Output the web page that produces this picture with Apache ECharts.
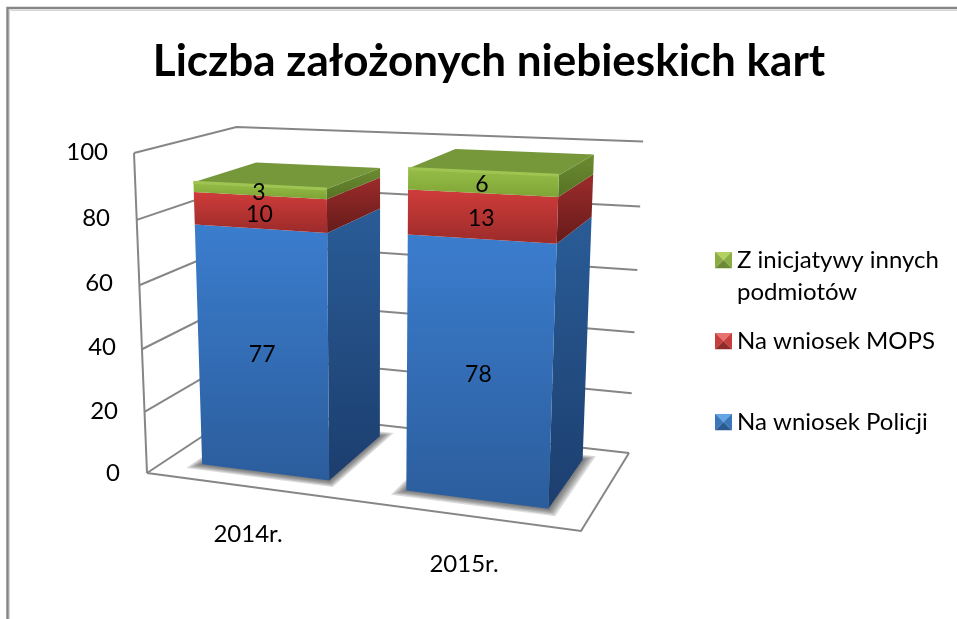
<!DOCTYPE html>
<html><head><meta charset="utf-8">
<style>html,body{margin:0;padding:0;background:#fff}#c{width:957px;height:619px}</style>
<script src="https://cdn.jsdelivr.net/npm/echarts@6/dist/echarts.min.js"></script>
</head><body><div id="c"></div>
<script>
const categories = ['2014r.', '2015r.'];
const naWniosekPolicji = [77, 78];
const naWniosekMops = [10, 13];
const zInicjatywy = [3, 6];
const gridTicks = [0, 20, 40, 60, 80, 100];
const seriesNames = ['Na wniosek Policji', 'Na wniosek MOPS', 'Z inicjatywy innych podmiotów'];

const FONT = 'Lato';
const GRID = {left: 140, right: 385, top: 151, bottom: 147};
// perspective box: floor corners (front-left, front-right, back-right, back-left), and top of two vertical edges
const FLOOR = [[147,473],[581,531],[629,453],[243,409.5]];
const TOP_FL = [134,153], TOP_BR = [643,144];
const BAR_W = 0.635, DEPTH_F = 0.19, DEPTH_B = 0.835;

function quadMap(q){
  const [p0,p1,p2,p3]=q;
  const dx1=p1[0]-p2[0],dx2=p3[0]-p2[0],sx=p0[0]-p1[0]+p2[0]-p3[0];
  const dy1=p1[1]-p2[1],dy2=p3[1]-p2[1],sy=p0[1]-p1[1]+p2[1]-p3[1];
  const den=dx1*dy2-dx2*dy1;
  const g=(sx*dy2-dx2*sy)/den,h=(dx1*sy-sx*dy1)/den;
  const a=p1[0]-p0[0]+g*p1[0],b=p3[0]-p0[0]+h*p3[0],c=p0[0];
  const d=p1[1]-p0[1]+g*p1[1],e=p3[1]-p0[1]+h*p3[1],f=p0[1];
  return (u,v)=>[a*u+b*v+c,d*u+e*v+f,g*u+h*v+1];
}
const floorH=quadMap(FLOOR);
// vanishing point of the vertical edges
const kL=(TOP_FL[0]-FLOOR[0][0])/(TOP_FL[1]-FLOOR[0][1]);
const kR=(TOP_BR[0]-FLOOR[2][0])/(TOP_BR[1]-FLOOR[2][1]);
const VY=(FLOOR[2][0]-kR*FLOOR[2][1]-FLOOR[0][0]+kL*FLOOR[0][1])/(kL-kR);
const VX=FLOOR[0][0]+kL*(VY-FLOOR[0][1]);
const ALPHA=(TOP_FL[0]-FLOOR[0][0])/(VX-TOP_FL[0]);
// project a point of the grid (pixel from the axes) + depth into the 3D picture
function project(pt, cs, depth){
  const u=(pt[0]-cs.x)/cs.width;
  const t=(cs.y+cs.height-pt[1])/cs.height;
  const h=floorH(u,depth);
  const w=h[2]+t*ALPHA;
  return [(h[0]+t*ALPHA*VX)/w,(h[1]+t*ALPHA*VY)/w];
}
const grad=(c0,c1)=>({type:'linear',x:0,y:0,x2:0,y2:1,colorStops:[{offset:0,color:c0},{offset:1,color:c1}]});
const STY=[
 {front:['#3b7dce','#2b5d9c'],side:['#2a5c97','#1c3e6e']},
 {front:['#cf3c3a','#9b2b2a'],side:['#9c2c2b','#651b1a']},
 {front:['#96bd47','#7fa436'],side:['#6c8c30','#567226'],top:'#76973a',edge:'#a0c452'}
];
const SHADOW_STEPS=[10,8,6,4,2];
function barItem(sIdx){
  return function(params,api){
    const cs=api.coordSys?api.coordSys():params.coordSys;
    const cat=api.value(0),lo=api.value(1),hi=api.value(2);
    const st=STY[sIdx];
    const band=api.size([1,0])[0];
    const c0=api.coord([cat,lo]),c1=api.coord([cat,hi]);
    const x0=c0[0]-band*BAR_W/2,x1=c0[0]+band*BAR_W/2;
    const P=(x,y,d)=>project([x,y],cs,d);
    const fl=P(x0,c0[1],DEPTH_F),fr=P(x1,c0[1],DEPTH_F),br=P(x1,c0[1],DEPTH_B);
    const tl=P(x0,c1[1],DEPTH_F),tr=P(x1,c1[1],DEPTH_F),tbr=P(x1,c1[1],DEPTH_B),tbl=P(x0,c1[1],DEPTH_B);
    const ch=[];
    if(sIdx===0){
      SHADOW_STEPS.forEach(e=>{
        const df=DEPTH_F-e*0.007,db=DEPTH_B+e*0.007;
        const pts=[P(x0-e,c0[1],df),P(x1+e,c0[1],df),P(x1+e,c0[1],db),P(x0-e,c0[1],db)];
        ch.push({type:'polygon',shape:{points:pts},style:{fill:'rgba(50,50,50,0.17)'}});
      });
    }
    ch.push({type:'polygon',shape:{points:[fr,br,tbr,tr]},style:{fill:grad(st.side[0],st.side[1])}});
    ch.push({type:'polygon',shape:{points:[fl,fr,tr,tl]},style:{fill:grad(st.front[0],st.front[1])}});
    if(st.top){
      ch.push({type:'polygon',shape:{points:[tl,tr,tbr,tbl]},style:{fill:st.top}});
      ch.push({type:'polyline',shape:{points:[tl,tr]},style:{stroke:st.edge,lineWidth:3,fill:'none'}});
    }
    const cm=api.coord([cat,(lo+hi)/2]);
    const lab=P(c0[0],cm[1],DEPTH_F);
    ch.push({type:'text',z2:50,style:{text:String(hi-lo),x:lab[0],y:lab[1]+2,align:'center',verticalAlign:'middle',fontFamily:FONT,fontSize:23,fill:'#000'}});
    return {type:'group',children:ch};
  };
}
function frameItem(params,api){
  const cs=api.coordSys?api.coordSys():params.coordSys;
  const v=api.value(0);
  const L=cs.x,R=cs.x+cs.width;
  const y=api.coord([0,v])[1];
  const a=project([L,y],cs,0),b=project([L,y],cs,1),c=project([R,y],cs,1);
  const style={stroke:'#868686',lineWidth:2,fill:'none'};
  const ch=[{type:'polyline',shape:{points:[a,b,c]},style}];
  if(v===0){
    const d=project([R,y],cs,0);
    ch.push({type:'polyline',shape:{points:[a,d,c]},style});
    const top=api.coord([0,100])[1];
    ch.push({type:'polyline',shape:{points:[a,project([L,top],cs,0)]},style});
  }
  return {type:'group',children:ch};
}
function stackData(idx){
  const all=[naWniosekPolicji,naWniosekMops,zInicjatywy];
  return categories.map((_,i)=>{
    let lo=0; for(let k=0;k<idx;k++) lo+=all[k][i];
    return [i,lo,lo+all[idx][i]];
  });
}
function icon(a,b,c){
  const svg=`<svg xmlns="http://www.w3.org/2000/svg" width="17" height="17"><path d="M0 0H17L8.5 8.5Z" fill="${a}"/><path d="M0 0V17L8.5 8.5Z" fill="${b}"/><path d="M17 0V17L8.5 8.5Z" fill="${b}"/><path d="M0 17H17L8.5 8.5Z" fill="${c}"/></svg>`;
  return 'image://data:image/svg+xml,'+encodeURIComponent(svg);
}
const legendBase={left:710,orient:'vertical',itemWidth:17,itemHeight:17,itemGap:0,selectedMode:false,
  textStyle:{fontFamily:FONT,fontSize:24,color:'#000',lineHeight:32}};
const yShift={0:1,20:3,40:4,60:4,80:3,100:1};
const yRight={0:12,20:14,40:16,60:19,80:22,100:24};
const yRich={};
gridTicks.forEach(v=>{yRich['t'+v]={fontFamily:FONT,fontSize:24,color:'#000',padding:[yShift[v]*2,yRight[v],0,0]};});
const xRich={x0:{fontFamily:FONT,fontSize:24,color:'#000',padding:[42,0,0,0]},
             x1:{fontFamily:FONT,fontSize:24,color:'#000',padding:[72,0,0,0]}};
const chart=echarts.init(document.getElementById('c'),null,{renderer:'canvas'});
chart.setOption({
  animation:false,backgroundColor:'#fff',
  title:{text:'Liczba założonych niebieskich kart',left:484,top:57,textAlign:'center',textVerticalAlign:'middle',
    textStyle:{fontFamily:FONT,fontWeight:'bold',fontSize:44,color:'#000'}},
  grid:GRID,
  xAxis:{type:'category',data:categories,axisLine:{show:false},axisTick:{show:false},splitLine:{show:false},
    axisLabel:{margin:8,formatter:(v,i)=>`{x${i}|${v}}`,rich:xRich}},
  yAxis:{type:'value',min:0,max:100,interval:20,axisLine:{show:false},axisTick:{show:false},splitLine:{show:false},
    axisLabel:{margin:8,formatter:v=>`{t${v}|${v}}`,rich:yRich}},
  legend:[
    Object.assign({},legendBase,{top:207,data:[{name:seriesNames[2],icon:icon('#b2d161','#8aae44','#6b8a33')}],
      formatter:()=>'\nZ inicjatywy innych\npodmiotów'}),
    Object.assign({},legendBase,{top:320,data:[{name:seriesNames[1],icon:icon('#e87270','#c83e3c','#8f2c2b')}]}),
    Object.assign({},legendBase,{top:401,data:[{name:seriesNames[0],icon:icon('#62a6e6','#3a77bb','#295a92')}]})
  ],
  graphic:[
    {type:'polyline',silent:true,shape:{points:[[9.5,619],[9.5,10.5],[957,10.5]]},style:{stroke:'#d6d6d6',lineWidth:1,fill:'none'}},
    {type:'polyline',silent:true,shape:{points:[[7.5,619],[7.5,8],[957,8]]},style:{stroke:'#868686',lineWidth:2.5,fill:'none'}}
  ],
  series:[
    {type:'custom',name:'siatka',silent:true,clip:false,z:1,renderItem:frameItem,data:gridTicks.map(v=>[v]),encode:{y:0}},
    {type:'custom',name:seriesNames[0],silent:true,clip:false,z:2,renderItem:barItem(0),data:stackData(0),encode:{x:0,y:2}},
    {type:'custom',name:seriesNames[1],silent:true,clip:false,z:3,renderItem:barItem(1),data:stackData(1),encode:{x:0,y:2}},
    {type:'custom',name:seriesNames[2],silent:true,clip:false,z:4,renderItem:barItem(2),data:stackData(2),encode:{x:0,y:2}}
  ]
});
</script></body></html>
